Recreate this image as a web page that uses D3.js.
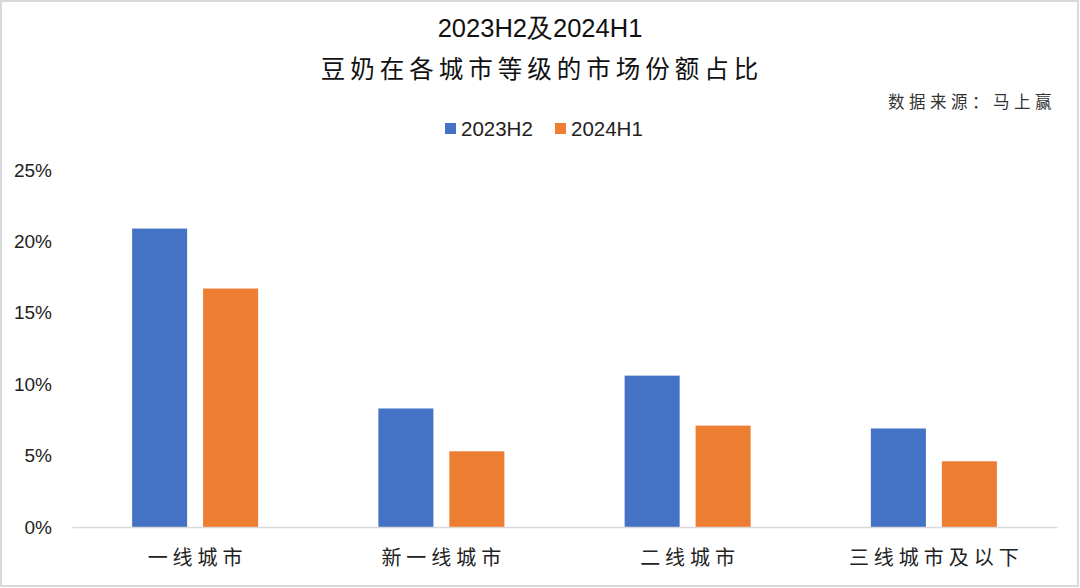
<!DOCTYPE html>
<html><head><meta charset="utf-8">
<script src="https://cdn.jsdelivr.net/npm/d3@7/dist/d3.min.js"></script>
<style>body{margin:0;background:#fff}svg{display:block}</style>
</head><body>
<svg id="c" width="1080" height="588"></svg>
<script>
const categories = ["一线城市","新一线城市","二线城市","三线城市及以下"];
const seriesNames = ["2023H2","2024H1"];
const values2023H2 = [20.9, 8.3, 10.6, 6.9];
const values2024H1 = [16.7, 5.3, 7.1, 4.6];
const yTicks = [0,5,10,15,20,25];
const colors = ["#4472C4","#ED7D31"];

const svg = d3.select("#c");
const W=1080,H=588;
svg.append("rect").attr("x",1).attr("y",1).attr("width",W-3).attr("height",H-3)
  .attr("fill","#fff").attr("stroke","#d9d9d9").attr("stroke-width",2);

const m={l:72,r:1057,t:170,b:527};
const x=d3.scaleBand().domain(categories).range([m.l,m.r]);
const x1=d3.scaleBand().domain(seriesNames).range([0,x.bandwidth()]).paddingInner(0.225).paddingOuter(0.847);
const y=d3.scaleLinear().domain([0,25]).range([m.b,m.t]);

const cjk='"Noto Sans CJK SC", sans-serif';
const lat='"Liberation Sans", Arial, sans-serif';

svg.append("text").attr("x",540).attr("y",37).attr("text-anchor","middle")
  .attr("font-family",lat).attr("font-size",25.5).attr("fill","#111")
  .text("2023H2及2024H1");
svg.append("text").attr("x",542).attr("y",78).attr("text-anchor","middle")
  .attr("font-family",cjk).attr("font-size",24.5).attr("letter-spacing",5).attr("fill","#111")
  .text("豆奶在各城市等级的市场份额占比");
svg.append("text").attr("x",1056).attr("y",108).attr("text-anchor","end")
  .attr("font-family",cjk).attr("font-size",16.5).attr("letter-spacing",4.5).attr("fill","#333")
  .text("数据来源：马上赢");

// legend
const leg=[{x:445,tx:461},{x:555,tx:571}];
seriesNames.forEach((s,i)=>{
  svg.append("rect").attr("x",leg[i].x).attr("y",123).attr("width",11).attr("height",11).attr("fill",colors[i]);
  svg.append("text").attr("x",leg[i].tx).attr("y",136).attr("font-family",lat).attr("font-size",20.5).attr("fill","#222").text(s);
});

// y axis labels
const ya=svg.append("g").attr("transform",`translate(${m.l},0)`)
  .call(d3.axisLeft(y).tickValues(yTicks).tickFormat(d=>d+"%").tickSize(0).tickPadding(20));
ya.select(".domain").remove();
ya.selectAll("text").attr("font-family",lat).attr("font-size",19).attr("fill","#222");

// bars
const data=categories.map((c,i)=>({c,v:[values2023H2[i],values2024H1[i]]}));
const g=svg.append("g");
data.forEach(d=>{
  seriesNames.forEach((s,j)=>{
    g.append("rect").attr("x",x(d.c)+x1(s)).attr("y",y(d.v[j]))
      .attr("width",x1.bandwidth()).attr("height",y(0)-y(d.v[j]))
      .attr("fill",colors[j]);
  });
});

// x axis
const xa=svg.append("g").attr("transform",`translate(0,${m.b})`)
  .call(d3.axisBottom(x).tickSize(0).tickPadding(24));
xa.select(".domain").attr("stroke","#d9d9d9").attr("stroke-width",1.5);
xa.selectAll("text").attr("font-family",cjk).attr("font-size",20).attr("fill","#222").attr("letter-spacing",5).attr("dx",2.5);
</script>
</body></html>
